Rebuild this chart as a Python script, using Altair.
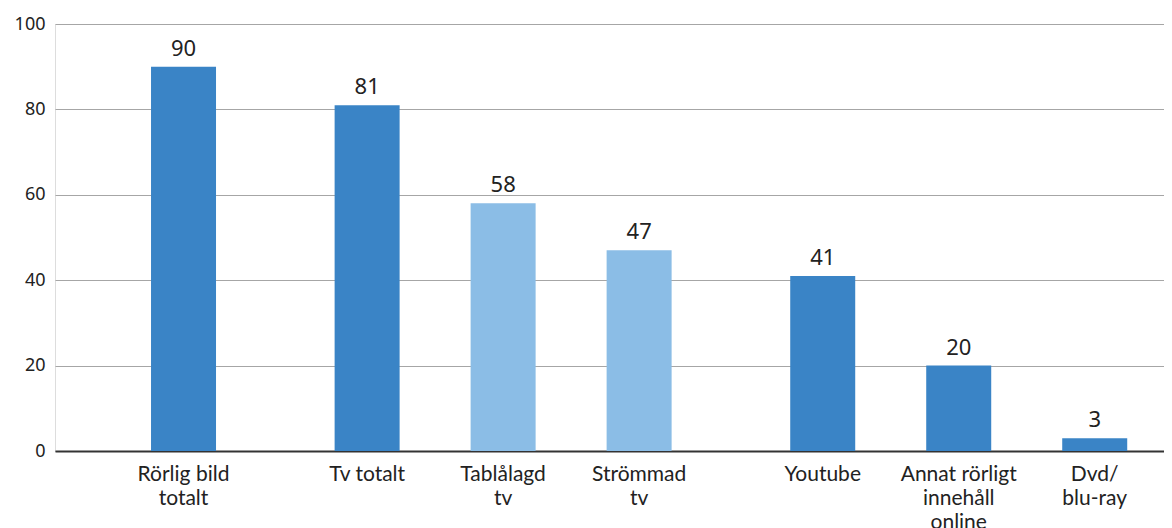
import altair as alt
import pandas as pd

# ---- data ----
categories = ["Rörlig bild\ntotalt", "Tv totalt", "Tablålagd\ntv", "Strömmad\ntv",
              "Youtube", "Annat rörligt\ninnehåll\nonline", "Dvd/\nblu-ray"]
values = [90, 81, 58, 47, 41, 20, 3]
groups = [0, 1, 1, 1, 2, 2, 2]          # bars are visually grouped with wider gaps
shades = ["dark", "dark", "light", "light", "dark", "dark", "dark"]
y_ticks = [0, 20, 40, 60, 80, 100]

# ---- layout ----
GAP = 0.35
W, H = 1109, 427
SLOT_PX = 136
x_min = -0.945

df = pd.DataFrame({
    "label": categories,
    "value": values,
    "shade": shades,
    "pos": [i + GAP * g for i, g in enumerate(groups)],
})

xscale = alt.Scale(domain=[x_min, x_min + W / SLOT_PX], nice=False, zero=False, padding=0)
yscale = alt.Scale(domain=[0, 100], nice=False)

x_enc = alt.X("pos:Q", scale=xscale,
              axis=alt.Axis(labels=False, ticks=False, grid=False, title=None,
                            domainColor="#333333", domainWidth=2))

base = alt.Chart(df)

bars = base.mark_bar(size=65).encode(
    x=x_enc,
    y=alt.Y("value:Q", scale=yscale,
            axis=alt.Axis(values=y_ticks, title=None, domain=False, ticks=False,
                          grid=True, gridColor="#a6a6a6", gridWidth=1,
                          labelFont="Noto Sans", labelFontSize=18, labelColor="#222222",
                          labelPadding=10)),
    color=alt.Color("shade:N", scale=alt.Scale(domain=["dark", "light"],
                                               range=["#3a84c6", "#8bbde6"]),
                    legend=None),
)

value_labels = base.mark_text(baseline="alphabetic", dy=-11, font="Noto Sans",
                              fontSize=22, color="#222222").encode(
    x=alt.X("pos:Q", scale=xscale),
    y=alt.Y("value:Q", scale=yscale),
    text=alt.Text("value:Q"),
)

cat_labels = base.mark_text(baseline="alphabetic", align="center", lineBreak="\n",
                            font="Lato", fontSize=21,
                            lineHeight=24, color="#222222").encode(
    x=alt.X("pos:Q", scale=xscale),
    y=alt.value(H + 30),
    text="label:N",
)

chart = (bars + value_labels + cat_labels).properties(
    width=W, height=H,
    autosize=alt.AutoSizeParams(type="none"),
    padding={"left": 47, "top": 16, "right": 0, "bottom": 77},
).configure_view(stroke=None).configure(background="white")

chart.save("out.html", embed_options={"renderer": "svg", "actions": False})
